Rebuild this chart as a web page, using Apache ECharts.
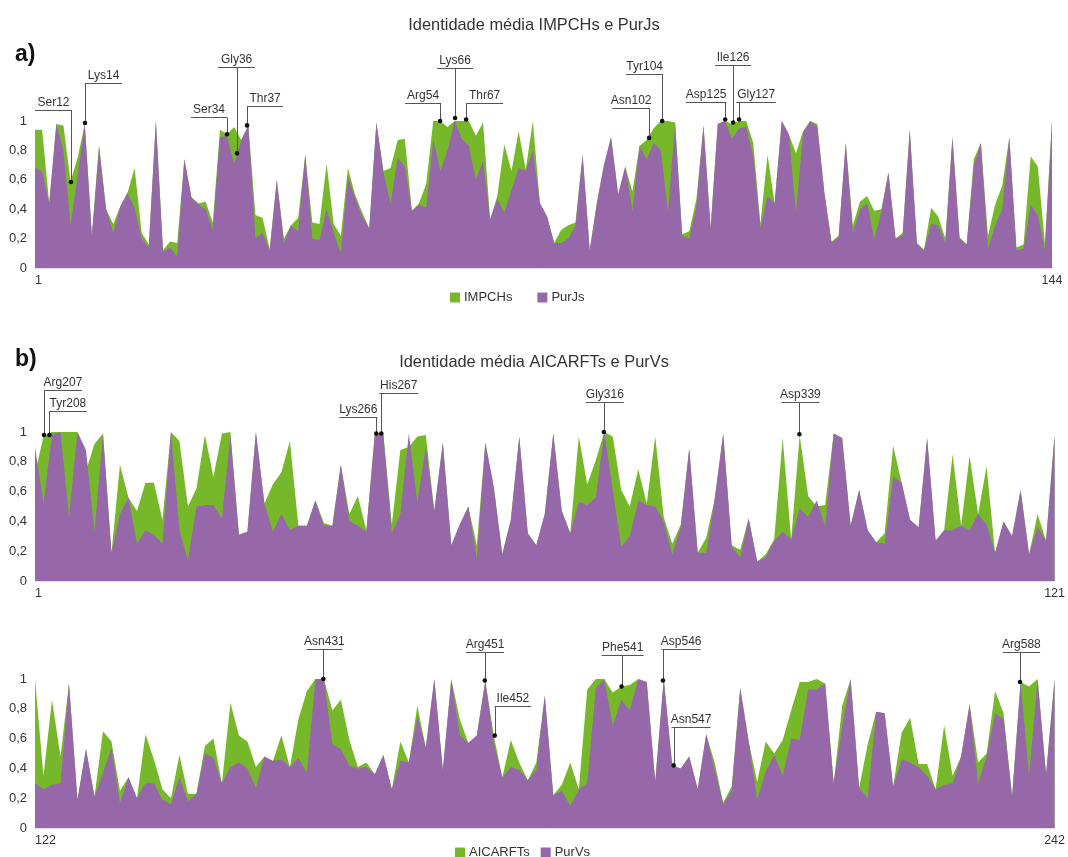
<!DOCTYPE html>
<html>
<head>
<meta charset="utf-8">
<script src="https://cdn.jsdelivr.net/npm/echarts@6/dist/echarts.min.js"></script>
<style>
html,body{margin:0;padding:0;background:#fff;}
#chart{width:1068px;height:857px;}
</style>
</head>
<body>
<div id="chart"></div>
<script>
// ---------- Panel a ----------
const aPositions = [1, 144];
const aImpch = [0.94,0.94,0.44,0.98,0.97,0.59,0.75,0.98,0.22,0.84,0.40,0.30,0.42,0.51,0.68,0.24,0.16,1.0,0.12,0.18,
0.17,0.74,0.48,0.44,0.45,0.31,0.94,0.91,0.96,0.87,0.97,0.36,0.34,0.13,0.60,0.20,0.29,0.34,0.77,0.31,
0.30,0.71,0.30,0.22,0.68,0.50,0.38,0.27,0.99,0.66,0.68,0.87,0.88,0.39,0.44,0.57,1.0,1.0,0.96,1.0,
1.0,1.0,0.90,0.99,0.33,0.49,0.84,0.66,0.93,0.67,1.0,0.44,0.35,0.17,0.26,0.29,0.31,0.77,0.12,0.44,
0.70,0.89,0.50,0.69,0.52,0.83,0.87,0.95,1.0,1.0,0.99,0.23,0.25,0.47,0.97,0.27,0.98,1.0,0.98,1.0,
1.0,0.85,0.30,0.77,0.44,1.0,0.91,0.78,0.93,1.0,0.98,0.51,0.18,0.22,0.85,0.29,0.45,0.49,0.39,0.40,
0.65,0.20,0.24,0.94,0.17,0.12,0.41,0.35,0.20,0.89,0.21,0.16,0.74,0.85,0.22,0.43,0.56,0.89,0.14,0.16,
0.76,0.69,0.17,1.0];
const aPurJ = [0.68,0.66,0.44,0.98,0.80,0.29,0.63,0.98,0.22,0.82,0.40,0.24,0.42,0.51,0.41,0.20,0.14,1.0,0.11,0.14,
0.08,0.74,0.48,0.43,0.40,0.26,0.89,0.90,0.71,0.87,0.97,0.20,0.24,0.12,0.60,0.17,0.29,0.25,0.77,0.20,
0.19,0.40,0.24,0.10,0.62,0.48,0.35,0.27,0.99,0.65,0.44,0.75,0.69,0.39,0.43,0.41,0.87,0.66,0.80,1.0,
0.88,0.83,0.60,0.73,0.33,0.47,0.38,0.53,0.68,0.66,0.80,0.44,0.35,0.17,0.17,0.20,0.29,0.77,0.12,0.44,
0.70,0.89,0.50,0.69,0.39,0.83,0.74,0.85,0.80,0.38,0.98,0.22,0.20,0.42,0.97,0.27,0.98,1.0,0.88,0.95,
0.96,0.76,0.27,0.49,0.44,1.0,0.91,0.38,0.92,1.0,0.96,0.51,0.17,0.21,0.85,0.24,0.40,0.44,0.20,0.38,
0.65,0.20,0.22,0.94,0.17,0.12,0.30,0.29,0.17,0.89,0.20,0.16,0.69,0.85,0.13,0.29,0.40,0.89,0.12,0.13,
0.43,0.36,0.12,1.0];
// annotations: label, position, value of dot, label-line value, underline start, underline end
const aAnnoNames = ['Ser12','Lys14','Ser34','Gly36','Thr37','Arg54','Lys66','Thr67','Asn102','Tyr104','Asp125','Ile126','Gly127'];
const aAnnoX  = [6.06, 8.03, 28.0, 29.41, 30.82, 57.96, 60.07, 61.62, 87.36, 89.19, 98.05, 99.17, 100.0];
const aAnnoY  = [0.585, 0.986, 0.91, 0.78, 0.97, 1.0, 1.02, 1.01, 0.885, 1.0, 1.01, 0.99, 1.01];
const aAnnoLY = [1.075, 1.26, 1.03, 1.37, 1.10, 1.12, 1.36, 1.12, 1.09, 1.32, 1.13, 1.38, 1.13];
const aAnnoU0 = [1.0, 8.03, 22.94, 26.74, 30.82, 53.04, 57.54, 61.62, 82.15, 84.12, 92.56, 96.63, 99.6];
const aAnnoU1 = [6.2, 13.24, 28.0, 31.94, 35.88, 58.1, 62.6, 66.82, 87.5, 89.33, 98.19, 101.7, 105.2];

// ---------- Panel b (top) ----------
const bTopPositions = [1, 121];
const bTopAicarft = [0.72,0.97,1.0,1.0,1.0,1.0,0.74,0.92,0.99,0.19,0.78,0.56,0.47,0.66,0.66,0.41,1.0,0.94,0.50,0.62,
0.98,0.70,0.99,1.0,0.31,0.33,1.0,0.52,0.65,0.73,0.94,0.37,0.37,0.54,0.39,0.37,0.78,0.45,0.57,0.34,
0.99,0.99,0.38,0.88,0.90,0.97,0.98,0.47,0.93,0.24,0.38,0.50,0.24,0.93,0.63,0.18,0.41,0.97,0.32,0.24,
0.45,0.99,0.47,0.32,0.97,0.65,0.81,1.0,0.97,0.61,0.50,0.75,0.52,0.97,0.43,0.25,0.38,0.89,0.19,0.29,
0.55,0.99,0.24,0.21,0.42,0.13,0.18,0.28,0.96,0.28,0.98,0.57,0.50,0.51,0.99,0.96,0.37,0.61,0.34,0.26,
0.32,0.91,0.66,0.41,0.36,0.96,0.27,0.34,0.85,0.37,0.84,0.45,0.77,0.19,0.40,0.30,0.61,0.18,0.45,0.27,
0.98];
const bTopPurV = [0.90,0.52,0.98,1.0,0.43,1.0,0.88,0.33,0.99,0.19,0.45,0.56,0.25,0.34,0.31,0.25,1.0,0.34,0.14,0.50,
0.51,0.51,0.42,0.98,0.31,0.33,1.0,0.52,0.33,0.45,0.34,0.37,0.37,0.54,0.37,0.37,0.78,0.40,0.37,0.33,
0.99,0.98,0.32,0.45,0.99,0.53,0.90,0.47,0.93,0.24,0.38,0.50,0.15,0.93,0.63,0.18,0.41,0.97,0.32,0.24,
0.45,0.99,0.47,0.32,0.53,0.51,0.56,1.0,0.61,0.23,0.30,0.54,0.51,0.50,0.40,0.18,0.36,0.89,0.19,0.19,
0.55,0.99,0.23,0.16,0.42,0.13,0.16,0.27,0.33,0.28,0.49,0.43,0.54,0.37,0.99,0.96,0.37,0.61,0.34,0.26,
0.25,0.70,0.66,0.41,0.36,0.96,0.27,0.34,0.34,0.37,0.34,0.45,0.38,0.19,0.40,0.30,0.61,0.18,0.36,0.27,
0.98];
const bTopAnnoNames = ['Arg207','Tyr208','Lys266','His267','Gly316','Asp339'];
const bTopAnnoX  = [2.06, 2.70, 41.17, 41.76, 67.95, 90.97];
const bTopAnnoY  = [0.98, 0.98, 0.99, 0.99, 1.0, 0.985];
const bTopAnnoLY = [1.28, 1.14, 1.10, 1.26, 1.20, 1.20];
const bTopAnnoU0 = [2.06, 2.64, 36.82, 41.52, 65.83, 88.86];
const bTopAnnoU1 = [6.52, 7.11, 41.29, 46.1, 70.3, 93.32];

// ---------- Panel b (bottom) ----------
const bBotPositions = [122, 242];
const bBotAicarft = [1.0,0.35,0.86,0.48,0.97,0.19,0.53,0.21,0.65,0.58,0.25,0.34,0.20,0.63,0.46,0.26,0.20,0.49,0.23,0.23,
0.55,0.60,0.30,0.84,0.62,0.58,0.41,0.48,0.45,0.62,0.41,0.73,0.92,1.0,1.0,0.79,0.86,0.59,0.41,0.44,
0.36,0.49,0.26,0.58,0.44,0.82,0.54,1.0,0.39,1.0,0.73,0.57,0.62,0.99,0.62,0.34,0.59,0.44,0.32,0.44,
0.89,0.22,0.29,0.44,0.26,0.93,1.0,1.0,0.91,0.95,0.96,1.0,0.98,0.31,1.0,0.42,0.40,0.48,0.26,0.63,
0.44,0.17,0.28,0.94,0.58,0.31,0.58,0.50,0.59,0.79,0.98,0.98,1.0,0.97,0.30,0.82,1.0,0.27,0.56,0.78,
0.77,0.28,0.64,0.74,0.43,0.43,0.26,0.69,0.35,0.48,0.83,0.44,0.50,0.92,0.77,0.21,0.98,0.95,1.0,0.36,
1.0];
const bBotPurV = [0.30,0.26,0.29,0.30,0.97,0.19,0.53,0.21,0.37,0.54,0.17,0.34,0.20,0.30,0.30,0.19,0.16,0.34,0.18,0.23,
0.50,0.47,0.30,0.41,0.44,0.40,0.27,0.48,0.45,0.46,0.41,0.47,0.37,1.0,1.0,0.56,0.53,0.42,0.40,0.41,
0.36,0.49,0.26,0.45,0.44,0.75,0.54,1.0,0.39,1.0,0.62,0.57,0.62,0.99,0.57,0.34,0.41,0.39,0.32,0.39,
0.89,0.22,0.25,0.15,0.26,0.30,0.94,1.0,0.69,0.86,0.79,1.0,0.98,0.31,1.0,0.42,0.40,0.48,0.26,0.63,
0.39,0.16,0.25,0.94,0.58,0.19,0.38,0.49,0.35,0.60,0.59,0.93,0.93,0.97,0.30,0.68,1.0,0.27,0.20,0.78,
0.77,0.28,0.46,0.44,0.41,0.35,0.26,0.29,0.30,0.48,0.83,0.30,0.48,0.77,0.73,0.21,0.98,0.35,1.0,0.36,
1.0];
const bBotAnnoNames = ['Asn431','Arg451','Ile452','Phe541','Asp546','Asn547','Arg588'];
const bBotAnnoX  = [34.94, 53.94, 55.11, 70.03, 74.91, 76.17, 116.93];
const bBotAnnoY  = [1.0, 0.99, 0.62, 0.95, 0.99, 0.42, 0.98];
const bBotAnnoLY = [1.20, 1.18, 0.82, 1.16, 1.20, 0.68, 1.18];
const bBotAnnoU0 = [32.95, 51.74, 55.1, 67.7, 74.76, 75.93, 114.9];
const bBotAnnoU1 = [37.18, 56.2, 59.4, 72.64, 79.34, 80.51, 119.3];

const yTicks = [0, 0.2, 0.4, 0.6, 0.8, 1];

// ---------- styles ----------
const GREEN = '#77b82a';
const PURPLE = '#9668aa';
const TXT = '#333';
const FONT = 'Liberation Sans, Arial, sans-serif';

function pairs(vals, start) { return vals.map((v, i) => [start + i, v]); }

function areaSeries(name, vals, start, color, idx, z) {
  return {
    name: name, type: 'line', xAxisIndex: idx, yAxisIndex: idx,
    data: pairs(vals, start), showSymbol: false, symbol: 'none',
    lineStyle: { width: 0, color: color }, itemStyle: { color: color },
    areaStyle: { color: color, opacity: 1 }, z: z, silent: true,
    emphasis: { disabled: true }, animation: false
  };
}

function annoSeries(names, xs, ys, lys, u0, u1, offset, idx) {
  const data = names.map((n, i) => [xs[i] + offset, ys[i], lys[i], u0[i] + offset, u1[i] + offset]);
  return {
    type: 'custom', xAxisIndex: idx, yAxisIndex: idx, clip: false, z: 10, silent: true,
    animation: false, data: data,
    renderItem: function (params, api) {
      const dot = api.coord([api.value(0), api.value(1)]);
      const ly = api.coord([api.value(0), api.value(2)])[1];
      const x0 = api.coord([api.value(3), 0])[0];
      const x1 = api.coord([api.value(4), 0])[0];
      const vx = Math.round(dot[0]) + 0.5;
      const hy = Math.round(ly) + 0.5;
      return {
        type: 'group', children: [
          { type: 'line', shape: { x1: vx, y1: hy, x2: vx, y2: dot[1] }, style: { stroke: '#555', lineWidth: 1 } },
          { type: 'line', shape: { x1: x0, y1: hy, x2: x1, y2: hy }, style: { stroke: '#555', lineWidth: 1 } },
          { type: 'circle', shape: { cx: dot[0], cy: dot[1], r: 2.3 }, style: { fill: '#111' } },
          { type: 'text', style: { text: names[params.dataIndex], x: (x0 + x1) / 2, y: hy - 2,
              align: 'center', verticalAlign: 'bottom', fill: TXT, font: '12px ' + FONT } }
        ]
      };
    }
  };
}

function xAxisCfg(idx, positions) {
  return {
    type: 'value', gridIndex: idx, min: positions[0], max: positions[1],
    splitLine: { show: false }, axisTick: { show: false },
    axisLine: { show: true, lineStyle: { color: '#e6dcea', width: 1 } },
    axisLabel: { customValues: positions, color: TXT, fontSize: 12.5, fontFamily: FONT, margin: 6,
                 alignMinLabel: 'left', alignMaxLabel: 'center' }
  };
}
function yAxisCfg(idx) {
  return {
    type: 'value', gridIndex: idx, min: yTicks[0], max: yTicks[yTicks.length - 1], interval: 0.2,
    splitLine: { show: false }, axisTick: { show: false }, axisLine: { show: false },
    axisLabel: { color: TXT, fontSize: 13, fontFamily: FONT, margin: 8,
      formatter: v => (Math.abs(v) < 1e-9 ? '0' : Math.abs(v - 1) < 1e-9 ? '1' : v.toFixed(1).replace('.', ',')) }
  };
}

const chart = echarts.init(document.getElementById('chart'), null, { renderer: 'canvas' });
chart.setOption({
  backgroundColor: '#fff',
  animation: false,
  textStyle: { fontFamily: FONT },
  title: [
    { text: 'Identidade média IMPCHs e PurJs', left: 'center', top: 12,
      textStyle: { fontSize: 16.4, fontWeight: 'normal', color: TXT, fontFamily: FONT } },
    { text: 'a)', left: 10, top: 38, textStyle: { fontSize: 23, fontWeight: 'bold', color: '#111', fontFamily: FONT } },
    { text: 'Identidade média AICARFTs e PurVs', left: 'center', top: 349,
      textStyle: { fontSize: 16.4, fontWeight: 'normal', color: TXT, fontFamily: FONT } },
    { text: 'b)', left: 10, top: 343, textStyle: { fontSize: 23, fontWeight: 'bold', color: '#111', fontFamily: FONT } }
  ],
  legend: [
    { data: ['IMPCHs', 'PurJs'], left: 445, top: 286, icon: 'rect', itemWidth: 10, itemHeight: 10, itemGap: 25,
      textStyle: { fontSize: 13, color: TXT, fontFamily: FONT, padding: [0, 0, 0, -1] }, selectedMode: false },
    { data: ['AICARFTs', 'PurVs'], left: 450, top: 841, icon: 'rect', itemWidth: 10, itemHeight: 10, itemGap: 11,
      textStyle: { fontSize: 13, color: TXT, fontFamily: FONT, padding: [0, 0, 0, -1] }, selectedMode: false }
  ],
  grid: [
    { left: 35, top: 121, width: 1017, height: 147 },
    { left: 35, top: 432, width: 1022, height: 149 },
    { left: 35, top: 679, width: 1022, height: 149 }
  ],
  xAxis: [xAxisCfg(0, aPositions), xAxisCfg(1, bTopPositions), xAxisCfg(2, bBotPositions)],
  yAxis: [yAxisCfg(0), yAxisCfg(1), yAxisCfg(2)],
  series: [
    areaSeries('IMPCHs', aImpch, aPositions[0], GREEN, 0, 2),
    areaSeries('PurJs', aPurJ, aPositions[0], PURPLE, 0, 3),
    areaSeries('AICARFTs', bTopAicarft, bTopPositions[0], GREEN, 1, 2),
    areaSeries('PurVs', bTopPurV, bTopPositions[0], PURPLE, 1, 3),
    areaSeries('AICARFTs', bBotAicarft, bBotPositions[0], GREEN, 2, 2),
    areaSeries('PurVs', bBotPurV, bBotPositions[0], PURPLE, 2, 3),
    annoSeries(aAnnoNames, aAnnoX, aAnnoY, aAnnoLY, aAnnoU0, aAnnoU1, 0, 0),
    annoSeries(bTopAnnoNames, bTopAnnoX, bTopAnnoY, bTopAnnoLY, bTopAnnoU0, bTopAnnoU1, 0, 1),
    annoSeries(bBotAnnoNames, bBotAnnoX, bBotAnnoY, bBotAnnoLY, bBotAnnoU0, bBotAnnoU1, bBotPositions[0] - 1, 2)
  ]
});
</script>
</body>
</html>
